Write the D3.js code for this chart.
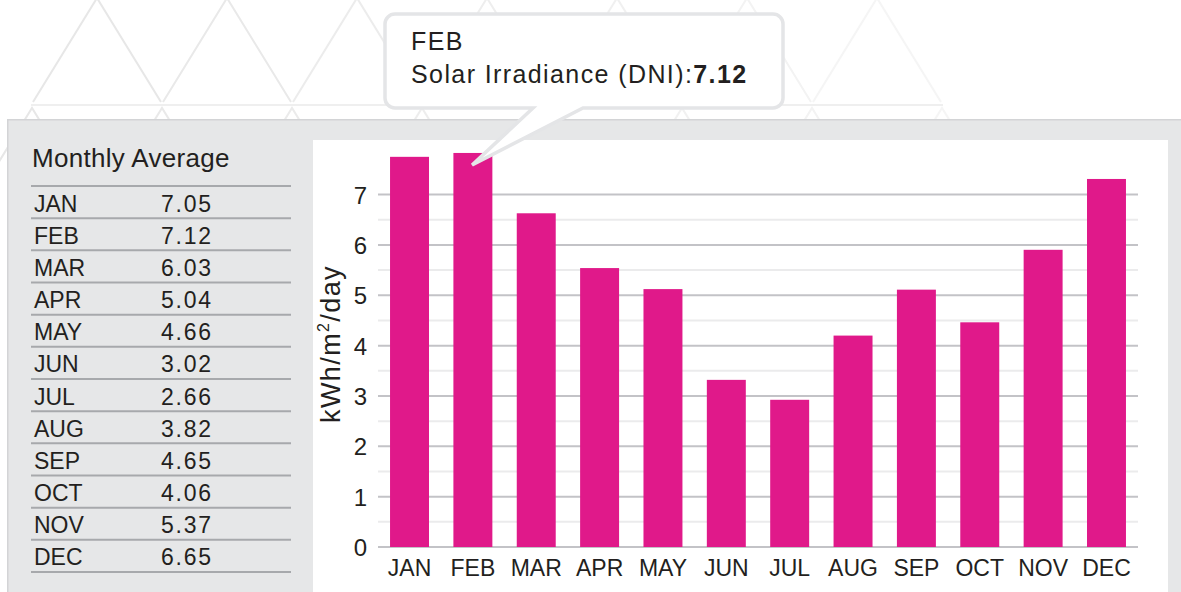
<!DOCTYPE html>
<html>
<head>
<meta charset="utf-8">
<script src="https://cdn.jsdelivr.net/npm/d3@7/dist/d3.min.js"></script>
<style>
  html, body { margin: 0; padding: 0; background: #ffffff; }
  svg { display: block; font-family: "Liberation Sans", Arial, sans-serif; }
</style>
</head>
<body>
<svg id="chart" width="1181" height="592"></svg>
<script>
// Monthly average direct normal irradiance (kWh/m²/day)
const months = ["JAN", "FEB", "MAR", "APR", "MAY", "JUN", "JUL", "AUG", "SEP", "OCT", "NOV", "DEC"];
const dni = [7.05, 7.12, 6.03, 5.04, 4.66, 3.02, 2.66, 3.82, 4.65, 4.06, 5.37, 6.65];
const yTickValues = [0, 1, 2, 3, 4, 5, 6, 7];
const yMinorValues = [0.5, 1.5, 2.5, 3.5, 4.5, 5.5, 6.5];
const tableTitle = "Monthly Average";
const axisTitle = "kWh/m²/day";
const tooltipMonth = "FEB";
const tooltipLabel = "Solar Irradiance (DNI):";

const W = 1181, H = 592;
const ink = "#231f20";
const barColor = "#e0198a";
const svg = d3.select("#chart");

// ---- decorative triangle lattice in the header ----
const deco = svg.append("g").attr("fill", "none").attr("stroke-width", 2);
const triShade = d3.interpolateRgb("#e7e7e7", "#f5f5f5");
for (let k = 0; k < 7; k++) {
  const cx = 97 + 130 * k;
  deco.append("path")
    .attr("d", `M${cx - 64},102 L${cx},-2 L${cx + 64},102`)
    .attr("stroke", triShade(k / 6));
}
deco.append("line").attr("x1", 31).attr("x2", 943).attr("y1", 105).attr("y2", 105)
  .attr("stroke", "#efefef");
for (let k = 0; k < 8; k++) {
  const cx = 32 + 130 * k;
  deco.append("path")
    .attr("d", `M${cx - 64},212 L${cx},108 L${cx + 64},212`)
    .attr("stroke", triShade(Math.min(k, 7) / 7));
}

// ---- grey panel and white plot card ----
svg.append("rect").attr("x", 7).attr("y", 120).attr("width", W - 7).attr("height", H - 120)
  .attr("fill", "#e6e7e8");
svg.append("path").attr("d", `M7.75,${H} L7.75,119.75 L${W},119.75`)
  .attr("fill", "none").attr("stroke", "#d3d4d6").attr("stroke-width", 1.5);
svg.append("rect").attr("x", 313).attr("y", 140).attr("width", 855).attr("height", H - 140)
  .attr("fill", "#ffffff");

// ---- monthly table ----
const table = svg.append("g").attr("fill", ink);
table.append("text").attr("x", 32).attr("y", 167)
  .attr("font-size", 26).attr("letter-spacing", 0.3).text(tableTitle);
const rowStep = 32.17, rowTop = 186;
const rowLines = d3.range(months.length + 1).map(i => rowTop + i * rowStep);
table.selectAll("line.row").data(rowLines).join("line")
  .attr("class", "row")
  .attr("x1", 31).attr("x2", 291)
  .attr("y1", d => d).attr("y2", d => d)
  .attr("stroke", "#a7a9ac").attr("stroke-width", 2);
const rows = table.selectAll("g.rowtext").data(months.map((m, i) => ({ m, v: dni[i], i })))
  .join("g").attr("class", "rowtext")
  .attr("transform", d => `translate(0,${rowTop + d.i * rowStep + 25.5})`);
rows.append("text").attr("x", 34).attr("font-size", 23).text(d => d.m);
rows.append("text").attr("x", 161).attr("font-size", 23).attr("letter-spacing", 1.8)
  .text(d => d3.format(".2f")(d.v));

// ---- scales ----
const x = d3.scaleBand().domain(months).range([378, 1138])
  .paddingInner(0.385).paddingOuter(0.19);
const yAxisScale = d3.scaleLinear().domain([0, 7]).range([547, 194.6]);
const yBar = d3.scaleLinear().domain([0, 7]).range([547, 159.6]);

// ---- gridlines ----
const grid = svg.append("g");
grid.selectAll("line.minor").data(yMinorValues).join("line")
  .attr("class", "minor")
  .attr("x1", 378).attr("x2", 1138)
  .attr("y1", d => yAxisScale(d)).attr("y2", d => yAxisScale(d))
  .attr("stroke", "#ebebec").attr("stroke-width", 2);
grid.selectAll("line.major").data(yTickValues).join("line")
  .attr("class", "major")
  .attr("x1", 378).attr("x2", 1138)
  .attr("y1", d => yAxisScale(d)).attr("y2", d => yAxisScale(d))
  .attr("stroke", "#c3c3c7").attr("stroke-width", 2);

// ---- y axis labels ----
const yAxis = svg.append("g").attr("transform", "translate(378,0)")
  .call(d3.axisLeft(yAxisScale).tickValues(yTickValues).tickSize(0).tickPadding(11)
    .tickFormat(d3.format("d")));
yAxis.select(".domain").remove();
yAxis.selectAll("text").attr("font-size", 24).attr("fill", ink)
  .attr("font-family", "Liberation Sans, Arial, sans-serif").attr("dy", "0.36em");

// axis title
const ttl = svg.append("text")
  .attr("transform", "translate(340,344) rotate(-90)")
  .attr("text-anchor", "middle").attr("font-size", 27).attr("letter-spacing", 1.4)
  .attr("fill", ink);
ttl.append("tspan").text("kWh/m");
ttl.append("tspan").attr("font-size", 16).attr("dy", -11).text("2");
ttl.append("tspan").attr("dy", 11).text("/day");

// ---- bars ----
svg.append("g").selectAll("rect").data(months.map((m, i) => ({ m, v: dni[i] })))
  .join("rect")
  .attr("x", d => x(d.m))
  .attr("width", x.bandwidth())
  .attr("y", d => yBar(d.v))
  .attr("height", d => yBar(0) - yBar(d.v))
  .attr("fill", barColor);

// ---- x axis labels ----
const xAxis = svg.append("g").attr("transform", "translate(0,547)")
  .call(d3.axisBottom(x).tickSize(0).tickPadding(13));
xAxis.select(".domain").remove();
xAxis.selectAll("text").attr("font-size", 23).attr("fill", ink)
  .attr("font-family", "Liberation Sans, Arial, sans-serif").attr("dy", "0.71em");

// ---- callout for the highlighted month ----
const ti = months.indexOf(tooltipMonth);
const tipX = x(tooltipMonth) + x.bandwidth() * 0.48;
const tipY = yBar(dni[ti]) + 12;
const bx0 = 385, by0 = 14, bx1 = 783, by1 = 108, r = 10;
const tail0 = 533, tail1 = 583;
const callout = d3.path();
callout.moveTo(bx0 + r, by0);
callout.lineTo(bx1 - r, by0);
callout.arcTo(bx1, by0, bx1, by0 + r, r);
callout.lineTo(bx1, by1 - r);
callout.arcTo(bx1, by1, bx1 - r, by1, r);
callout.lineTo(tail1, by1);
callout.lineTo(tipX, tipY);
callout.lineTo(tail0, by1);
callout.lineTo(bx0 + r, by1);
callout.arcTo(bx0, by1, bx0, by1 - r, r);
callout.lineTo(bx0, by0 + r);
callout.arcTo(bx0, by0, bx0 + r, by0, r);
callout.closePath();
svg.append("path").attr("d", callout.toString())
  .attr("fill", "#ffffff").attr("stroke", "#e4e5e7").attr("stroke-width", 3.5)
  .attr("stroke-linejoin", "miter");

const tipText = svg.append("g").attr("fill", ink).attr("font-size", 25).attr("letter-spacing", 1.4);
tipText.append("text").attr("x", 411).attr("y", 50).text(tooltipMonth);
const line2 = tipText.append("text").attr("x", 411).attr("y", 83);
line2.append("tspan").text(tooltipLabel);
line2.append("tspan").attr("font-weight", "bold").text(d3.format(".2f")(dni[ti]));
</script>
</body>
</html>
